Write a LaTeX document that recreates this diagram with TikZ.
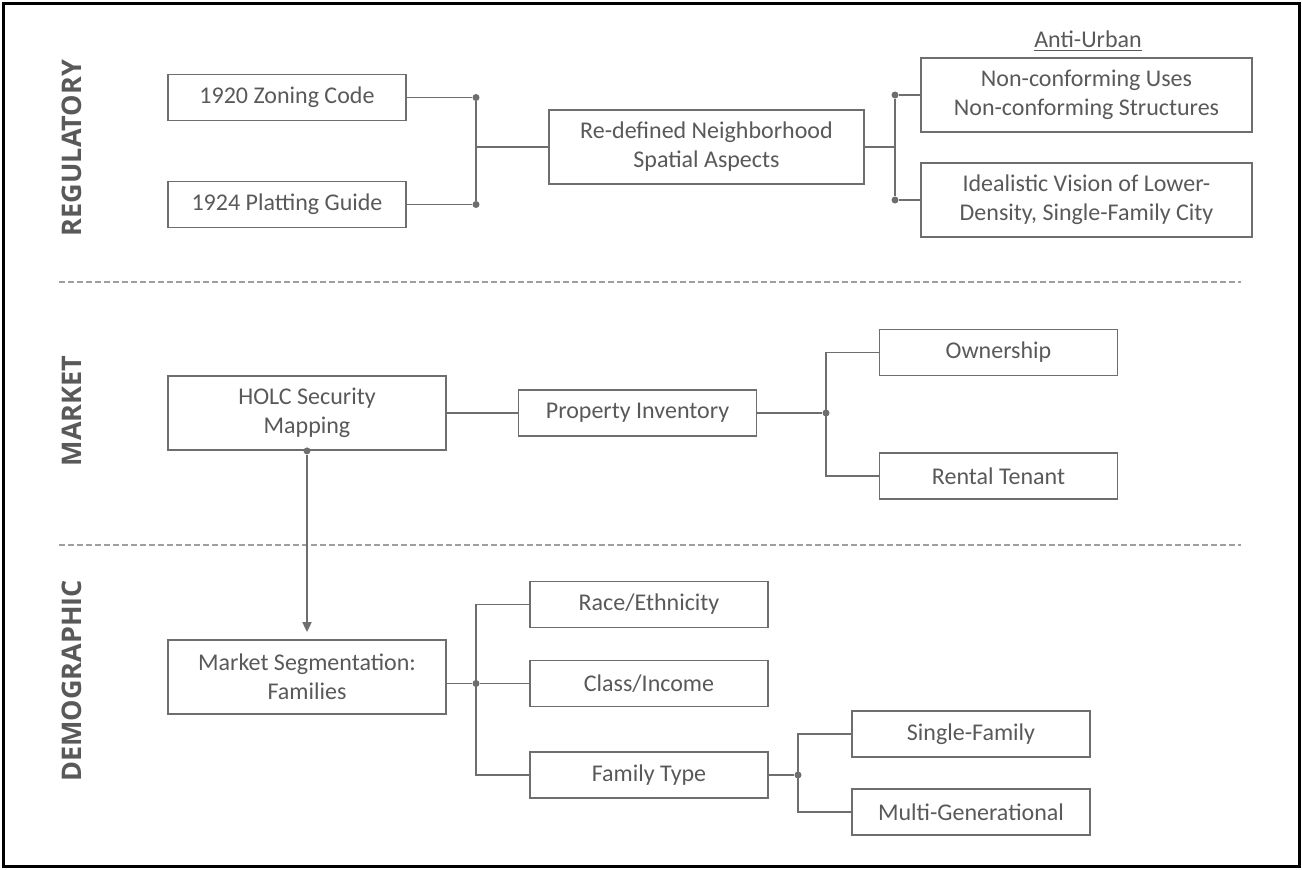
\documentclass[tikz,border=0pt]{standalone}
\usepackage{fontspec}
\setmainfont{Carlito}
\newfontfamily\sectfont{Open Sans}
\usetikzlibrary{positioning,arrows.meta}
\definecolor{txtgray}{HTML}{595959}
\definecolor{linegray}{HTML}{6E6E6E}
\tikzset{
  box/.style={draw=linegray, line width=0.9pt, text=txtgray, align=center,
    font=\fontsize{12}{14.5}\selectfont, inner sep=0pt,
    minimum width=119pt, minimum height=23pt},
  tall/.style={minimum height=37pt},
  link/.style={draw=linegray, line width=0.9pt},
  sect/.style={text=txtgray, rotate=90, font=\sectfont\bfseries\fontsize{13.5}{16}\selectfont},
  sep/.style={draw=gray!75, line width=0.6pt, dash pattern=on 3pt off 1.5pt},
  dot/.style={circle, fill=linegray, inner sep=0pt, minimum size=3.5pt}
}
\begin{document}
\begin{tikzpicture}[x=0.5pt,y=-0.5pt]
    \useasboundingbox (0,0) rectangle (1302,869);
    \draw[line width=1.5pt] (3,3) rectangle (1299,866);
    \node[sect] (reg) at (72,148) {REGULATORY};
    \node[sect] (mkt) at (72,411) {MARKET};
    \node[sect] (dem) at (72,681) {DEMOGRAPHIC};
    \draw[sep] (59,282) -- (1241,282) (59,545) -- (1241,545);

    \coordinate (xa) at (476,0);
    \coordinate (xb) at (895,0);
    \coordinate (xc) at (826,0);
    \coordinate (xe) at (798,0);

    \node[box] (zoning) at (287,97.5) {1920 Zoning Code};
    \node[box] (platting) at (287,204.5) {1924 Platting Guide};
    \node[box, tall, minimum width=157.5pt] (redef) at (706.5,147) {Re-defined Neighborhood\\Spatial Aspects};
    \node[box, tall, minimum width=165.5pt] (noncon) at (1086.5,95) {Non-conforming Uses\\Non-conforming Structures};
    \node[box, tall, minimum width=165.5pt] (ideal) at (1086.5,200) {Idealistic Vision of Lower-\\Density, Single-Family City};
    \node[text=txtgray, font=\fontsize{12}{14.5}\selectfont] (anti) at (1088,41) {\underline{Anti-Urban}};
    \node[dot] (za) at (zoning.east -| xa) {};
    \node[dot] (pa) at (platting.east -| xa) {};
    \draw[link] (zoning.east) -- (za) -- (pa) -- (platting.east);
    \draw[link] (redef.west -| xa) -- (redef.west);
    \node[dot] (nb) at (noncon.west -| xb) {};
    \node[dot] (ib) at (ideal.west -| xb) {};
    \draw[link] (noncon.west) -- (nb) -- (ib) -- (ideal.west);
    \draw[link] (redef.east) -- (redef.east -| xb);

    \node[box, tall, minimum width=139pt] (holc) at (307,413) {HOLC Security\\Mapping};
    \node[box] (property) at (637.5,413) {Property Inventory};
    \node[box] (ownership) at (998.5,352.5) {Ownership};
    \node[box] (rental) at (998.5,476) {Rental Tenant};
    \draw[link] (holc.east) -- (property.west);
    \node[dot] (pc) at (property.east -| xc) {};
    \draw[link] (property.east) -- (pc);
    \draw[link] (ownership.west) -- (ownership.west -| xc) -- (rental.west -| xc) -- (rental.west);

    \node[box, tall, minimum width=139pt] (mseg) at (307,677) {Market Segmentation:\\Families};
    \node[dot] (hd) at (holc.south) {};
    \draw[link, -{Triangle[length=5pt,width=4.5pt]}, shorten >=3.5pt] (hd) -- (mseg.north);

    \node[box] (race) at (649,604.5) {Race/Ethnicity};
    \node[box] (class) at (649,683.5) {Class/Income};
    \node[box] (ftype) at (649,775) {Family Type};
    \node[box] (single) at (971,734) {Single-Family};
    \node[box] (multi) at (971,812) {Multi-Generational};
    \node[dot] (md) at (class.west -| xa) {};
    \draw[link] (md -| mseg.east) -- (md) -- (class.west);
    \draw[link] (race.west) -- (race.west -| xa) -- (ftype.west -| xa) -- (ftype.west);
    \node[dot] (fe) at (ftype.east -| xe) {};
    \draw[link] (ftype.east) -- (fe);
    \draw[link] (single.west) -- (single.west -| xe) -- (multi.west -| xe) -- (multi.west);
\end{tikzpicture}
\end{document}
